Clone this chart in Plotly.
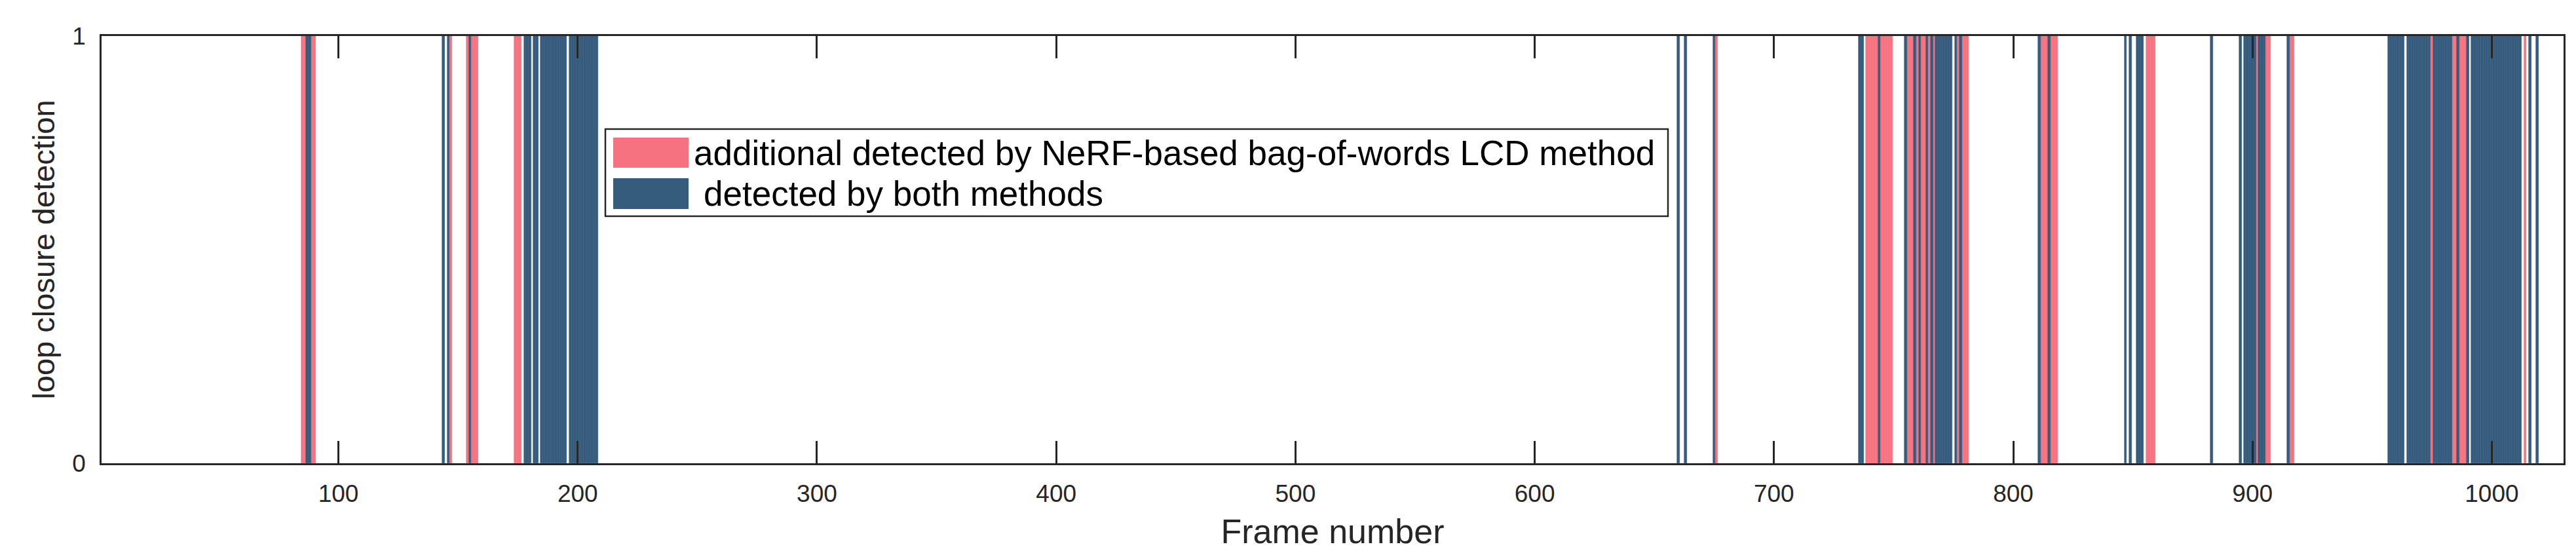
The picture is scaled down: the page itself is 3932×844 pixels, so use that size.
import plotly.graph_objects as go

# frames where a loop closure was detected
both_frames = [87, 88, 144, 146, 155, 178, 179, 180, 182, 183,
               185, 186, 187, 188, 189, 190, 191, 192, 193, 194, 195,
               197, 198, 199, 200, 201, 202, 203, 204, 205, 206, 207, 208,
               660, 663, 675, 736, 737, 744, 755, 759, 761, 764, 766,
               768, 769, 770, 771, 772, 773, 774, 776, 778, 811, 815,
               847, 849, 852, 853, 854, 883, 895, 897, 898, 899, 900, 901,
               903, 904, 905, 915, 957, 958, 959, 960, 961, 962, 963,
               965, 966, 967, 968, 969, 970, 971, 972, 973, 974,
               976, 977, 978, 979, 980, 981, 982, 983, 986, 990,
               992, 993, 994, 995, 996, 997, 998, 999, 1000, 1001, 1002,
               1003, 1004, 1005, 1006, 1007, 1008, 1009, 1010, 1011, 1012,
               1016, 1019]
additional_frames = [85, 86, 89, 90, 147, 154, 156, 157, 158, 174, 175, 176,
                     676, 739, 740, 741, 742, 743, 745, 746, 747, 748, 749,
                     756, 757, 758, 760, 762, 763, 765, 767, 777, 779, 780, 781,
                     812, 813, 814, 816, 817, 818, 856, 857, 858, 859,
                     902, 906, 907, 916, 917, 975, 984, 985, 987, 988, 989, 1014]
legend_labels = ['additional detected by NeRF-based bag-of-words LCD method',
                 'detected by both methods']
x_ticks = [100, 200, 300, 400, 500, 600, 700, 800, 900, 1000]
y_ticks = [0, 1]

PINK = '#F67280'
BLUE = '#355C7D'
INK = '#262626'
FONT = 'Liberation Sans, Arial, sans-serif'

W, H = 3932, 844
L, R, T, B = 147, 3905, 47, 699  # plot area in pixels


def px(x, y):
    """pixel position -> paper coordinates"""
    return (x - L) / (R - L), (B - y) / (B - T)


fig = go.Figure()
# thin outline in the fill colour closes the hairline seams between neighbouring frames
fig.add_trace(go.Bar(x=additional_frames, y=[1] * len(additional_frames), width=1,
                     marker=dict(color=PINK, line=dict(width=0.6, color=PINK)),
                     name=legend_labels[0], showlegend=False))
fig.add_trace(go.Bar(x=both_frames, y=[1] * len(both_frames), width=1,
                     marker=dict(color=BLUE, line=dict(width=0.6, color=BLUE)),
                     name=legend_labels[1], showlegend=False))

axis_style = dict(showline=True, linecolor=INK, linewidth=2.5, mirror='ticks',
                  ticks='inside', ticklen=34, tickwidth=2.5, tickcolor=INK,
                  showgrid=False, zeroline=False,
                  tickfont=dict(family=FONT, size=37, color=INK))
fig.update_xaxes(range=[1, 1030], tickvals=x_ticks, ticklabelstandoff=12,
                 title=dict(text='Frame number', standoff=20,
                            font=dict(family=FONT, size=52, color=INK)),
                 **axis_style)
fig.update_yaxes(range=[0, 1], tickvals=y_ticks, ticklabelstandoff=14,
                 title=dict(text='loop closure detection', standoff=12,
                            font=dict(family=FONT, size=47, color=INK)),
                 **axis_style)

# legend box drawn by hand so the swatches can be as large as the original
x0, y0 = px(916, 322)
x1, y1 = px(2538, 189)
fig.add_shape(type='rect', xref='paper', yref='paper', x0=x0, y0=y0, x1=x1, y1=y1,
              line=dict(color=INK, width=2.5), fillcolor='white', layer='above')
for (top, bottom, colour, label, tx) in [(202, 248, PINK, legend_labels[0], 1049),
                                          (264, 311, BLUE, legend_labels[1], 1064)]:
    sx0, sy0 = px(928, bottom)
    sx1, sy1 = px(1043, top)
    fig.add_shape(type='rect', xref='paper', yref='paper', x0=sx0, y0=sy0, x1=sx1, y1=sy1,
                  line=dict(width=0), fillcolor=colour, layer='above')
    ax, ay = px(tx, (top + bottom) / 2)
    fig.add_annotation(x=ax, y=ay, xref='paper', yref='paper', text=label,
                       showarrow=False, xanchor='left', yanchor='middle',
                       font=dict(family=FONT, size=53, color='black'))

fig.update_layout(width=W, height=H, plot_bgcolor='white', paper_bgcolor='white',
                  margin=dict(l=L, r=W - R, t=T, b=H - B), bargap=0,
                  barmode='overlay')
fig.write_html('out.html')
